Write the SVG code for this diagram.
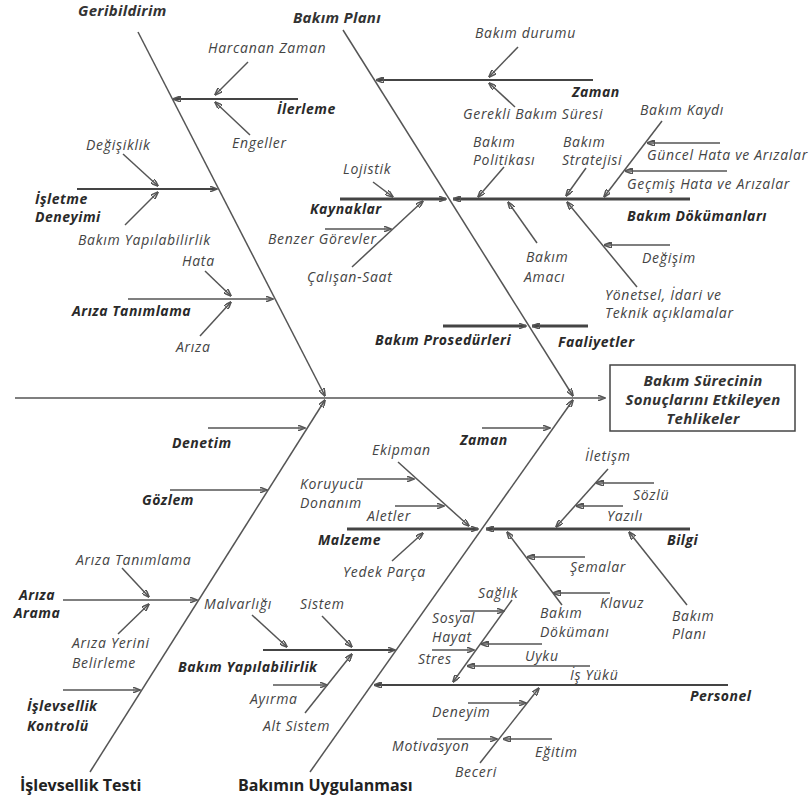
<svg xmlns="http://www.w3.org/2000/svg" width="810" height="805" viewBox="0 0 810 805">
<defs>
<marker id="a" markerUnits="userSpaceOnUse" markerWidth="8" markerHeight="6" refX="7.5" refY="3" orient="auto"><path d="M0,0 L8,3 L0,6 Z" fill="#222"/></marker>
<style>
text{font-family:"Open Sans","Liberation Sans",sans-serif;font-size:14px;letter-spacing:0.7px;font-style:italic;fill:#444}
.b{font-weight:bold;fill:#2a2a2a;letter-spacing:0.5px}
.t{font-weight:bold;font-size:15px;fill:#333;letter-spacing:0.3px}
.u{font-weight:bold;font-style:normal;font-size:16px;fill:#222;letter-spacing:0}
.c{text-anchor:middle}
path{fill:none;stroke:#555;stroke-width:1.5}
.m{stroke-width:2;stroke:#444}
.k{stroke-width:3;stroke:#444}
.e{marker-end:url(#a)}
rect{fill:#fff;stroke:#444;stroke-width:1.5}
</style>
</defs>
<rect width="810" height="805" style="fill:#fff;stroke:none"/>
<g id="connectors">
<path class="e" d="M15 398 H605"/>
<path class="e" d="M138 32 L325 396"/>
<path class="e" d="M343 30 L573 396"/>
<path class="e" d="M90 772 L325 400"/>
<path class="e" d="M310 772 L573 400"/>
<path class="m e" d="M298 99 H173"/>
<path class="e" d="M248 62 L215 95"/>
<path class="e" d="M250 135 L215 102"/>
<path class="m e" d="M77 189 H217"/>
<path class="e" d="M123 154 L158 186"/>
<path class="e" d="M125 225 L158 192"/>
<path class="e" d="M128 299 H273"/>
<path class="e" d="M205 271 L231 296"/>
<path class="e" d="M200 336 L231 302"/>
<path class="m e" d="M593 80 H376"/>
<path class="e" d="M518 47 L489 77"/>
<path class="e" d="M515 107 L489 83"/>
<path class="k e" d="M340 199 H446"/>
<path class="k e" d="M690 199 H453"/>
<path class="e" d="M373 182 L393 197"/>
<path class="e" d="M352 267 L423 201"/>
<path class="e" d="M325 229 H391"/>
<path class="e" d="M504 167 L478 197"/>
<path class="e" d="M537 243 L508 202"/>
<path class="e" d="M586 168 L566 196"/>
<path class="e" d="M637 287 L567 202"/>
<path class="e" d="M662 121 L604 197"/>
<path class="e" d="M720 143 H647"/>
<path class="e" d="M727 171 H625"/>
<path class="e" d="M670 245 H604"/>
<path class="k e" d="M443 326 H526"/>
<path class="k e" d="M588 326 H532"/>
<path class="e" d="M208 428 H305"/>
<path class="e" d="M170 490 H267"/>
<path class="e" d="M63 600 H197"/>
<path class="e" d="M122 568 L149 597"/>
<path class="e" d="M118 634 L149 604"/>
<path class="e" d="M63 690 H140"/>
<path class="e" d="M482 428 H550"/>
<path class="k e" d="M347 529 H478"/>
<path class="e" d="M398 462 L469 526"/>
<path class="e" d="M357 479 H414"/>
<path class="e" d="M395 506 H444"/>
<path class="e" d="M392 561 L423 533"/>
<path class="k e" d="M690 529 H486"/>
<path class="e" d="M608 469 L556 527"/>
<path class="e" d="M654 483 H596"/>
<path class="e" d="M623 506 H576"/>
<path class="e" d="M562 605 L507 532"/>
<path class="e" d="M585 557 H527"/>
<path class="e" d="M610 593 H553"/>
<path class="e" d="M687 605 L629 532"/>
<path class="m e" d="M263 650 H395"/>
<path class="e" d="M252 615 L287 647"/>
<path class="e" d="M322 616 L352 647"/>
<path class="e" d="M305 713 L352 654"/>
<path class="e" d="M273 685 H327"/>
<path class="m e" d="M728 685 H374"/>
<path class="e" d="M512 600 L453 682"/>
<path class="e" d="M460 611 H504"/>
<path class="e" d="M432 650 H474"/>
<path class="e" d="M542 644 H481"/>
<path class="e" d="M590 666 H467"/>
<path class="e" d="M480 763 L539 688"/>
<path class="e" d="M468 703 H526"/>
<path class="e" d="M437 739 H497"/>
<path class="e" d="M552 739 H503"/>
</g>
<g id="effect"><rect x="610" y="365" width="185" height="66"/><text class="t c" x="703" y="386">Bakım Sürecinin</text><text class="t c" x="703" y="405">Sonuçlarını Etkileyen</text><text class="t c" x="703" y="424">Tehlikeler</text></g>
<g id="geribildirim"><text class="t" x="78" y="16">Geribildirim</text></g>
<g id="bakim-plani"><text class="t" x="293" y="23">Bakım Planı</text></g>
<g id="islevsellik-testi"><text class="u" x="20" y="791">İşlevsellik Testi</text></g>
<g id="bakimin-uygulanmasi"><text class="u" x="238" y="791">Bakımın Uygulanması</text></g>
<g id="ilerleme"><text class="b" x="277" y="114">İlerleme</text></g>
<g id="harcanan-zaman"><text x="208" y="53">Harcanan Zaman</text></g>
<g id="engeller"><text x="232" y="148">Engeller</text></g>
<g id="isletme-deneyimi"><text class="b" x="35" y="204">İşletme</text><text class="b" x="35" y="222">Deneyimi</text></g>
<g id="degisiklik"><text x="86" y="150">Değişiklik</text></g>
<g id="bakim-yapilabilirlik-1"><text x="78" y="245">Bakım Yapılabilirlik</text></g>
<g id="ariza-tanimlama-1"><text class="b" x="72" y="316">Arıza Tanımlama</text></g>
<g id="hata"><text x="182" y="266">Hata</text></g>
<g id="ariza"><text x="176" y="352">Arıza</text></g>
<g id="zaman-1"><text class="b" x="572" y="97">Zaman</text></g>
<g id="bakim-durumu"><text x="475" y="38">Bakım durumu</text></g>
<g id="gerekli-bakim-suresi"><text x="463" y="119">Gerekli Bakım Süresi</text></g>
<g id="kaynaklar"><text class="b" x="310" y="214">Kaynaklar</text></g>
<g id="lojistik"><text x="343" y="174">Lojistik</text></g>
<g id="benzer-gorevler"><text x="268" y="244">Benzer Görevler</text></g>
<g id="calisan-saat"><text x="307" y="282">Çalışan-Saat</text></g>
<g id="bakim-politikasi"><text x="473" y="147">Bakım</text><text x="473" y="165">Politikası</text></g>
<g id="bakim-amaci"><text x="526" y="262">Bakım</text><text x="524" y="282">Amacı</text></g>
<g id="bakim-stratejisi"><text x="563" y="147">Bakım</text><text x="562" y="165">Stratejisi</text></g>
<g id="bakim-dokumanlari"><text class="b" x="627" y="221">Bakım Dökümanları</text></g>
<g id="bakim-kaydi"><text x="640" y="115">Bakım Kaydı</text></g>
<g id="guncel"><text x="647" y="160">Güncel Hata ve Arızalar</text></g>
<g id="gecmis"><text x="627" y="189">Geçmiş Hata ve Arızalar</text></g>
<g id="degisim"><text x="642" y="263">Değişim</text></g>
<g id="yonetsel"><text x="605" y="300">Yönetsel, İdari ve</text><text x="605" y="318">Teknik açıklamalar</text></g>
<g id="bakim-prosedurleri"><text class="b" x="375" y="345">Bakım Prosedürleri</text></g>
<g id="faaliyetler"><text class="b" x="558" y="347">Faaliyetler</text></g>
<g id="denetim"><text class="b" x="172" y="448">Denetim</text></g>
<g id="gozlem"><text class="b" x="142" y="505">Gözlem</text></g>
<g id="ariza-arama"><text class="b c" x="37" y="600">Arıza</text><text class="b c" x="37" y="618">Arama</text></g>
<g id="ariza-tanimlama-2"><text x="76" y="565">Arıza Tanımlama</text></g>
<g id="ariza-yerini"><text x="72" y="648">Arıza Yerini</text><text x="72" y="668">Belirleme</text></g>
<g id="islevsellik-kontrolu"><text class="b" x="27" y="711">İşlevsellik</text><text class="b" x="27" y="731">Kontrolü</text></g>
<g id="zaman-2"><text class="b" x="460" y="445">Zaman</text></g>
<g id="malzeme"><text class="b" x="318" y="545">Malzeme</text></g>
<g id="ekipman"><text x="372" y="455">Ekipman</text></g>
<g id="koruyucu-donanim"><text x="300" y="489">Koruyucu</text><text x="300" y="508">Donanım</text></g>
<g id="aletler"><text x="367" y="521">Aletler</text></g>
<g id="yedek-parca"><text x="343" y="577">Yedek Parça</text></g>
<g id="bilgi"><text class="b" x="667" y="545">Bilgi</text></g>
<g id="iletism"><text x="585" y="461">İletişm</text></g>
<g id="sozlu"><text x="633" y="500">Sözlü</text></g>
<g id="yazili"><text x="607" y="521">Yazılı</text></g>
<g id="semalar"><text x="570" y="572">Şemalar</text></g>
<g id="klavuz"><text x="600" y="608">Klavuz</text></g>
<g id="bakim-dokumani"><text x="540" y="618">Bakım</text><text x="540" y="637">Dökümanı</text></g>
<g id="bakim-plani-2"><text x="672" y="621">Bakım</text><text x="672" y="639">Planı</text></g>
<g id="bakim-yapilabilirlik-2"><text class="b" x="178" y="672">Bakım Yapılabilirlik</text></g>
<g id="malvarligi"><text x="204" y="609">Malvarlığı</text></g>
<g id="sistem"><text x="300" y="609">Sistem</text></g>
<g id="ayirma"><text x="250" y="704">Ayırma</text></g>
<g id="alt-sistem"><text x="263" y="731">Alt Sistem</text></g>
<g id="personel"><text class="b" x="690" y="701">Personel</text></g>
<g id="saglik"><text x="478" y="598">Sağlık</text></g>
<g id="sosyal-hayat"><text x="432" y="623">Sosyal</text><text x="432" y="642">Hayat</text></g>
<g id="stres"><text x="418" y="664">Stres</text></g>
<g id="uyku"><text x="525" y="661">Uyku</text></g>
<g id="is-yuku"><text x="570" y="680">İş Yükü</text></g>
<g id="deneyim"><text x="432" y="717">Deneyim</text></g>
<g id="motivasyon"><text x="392" y="751">Motivasyon</text></g>
<g id="egitim"><text x="535" y="757">Eğitim</text></g>
<g id="beceri"><text x="455" y="777">Beceri</text></g>
</svg>
